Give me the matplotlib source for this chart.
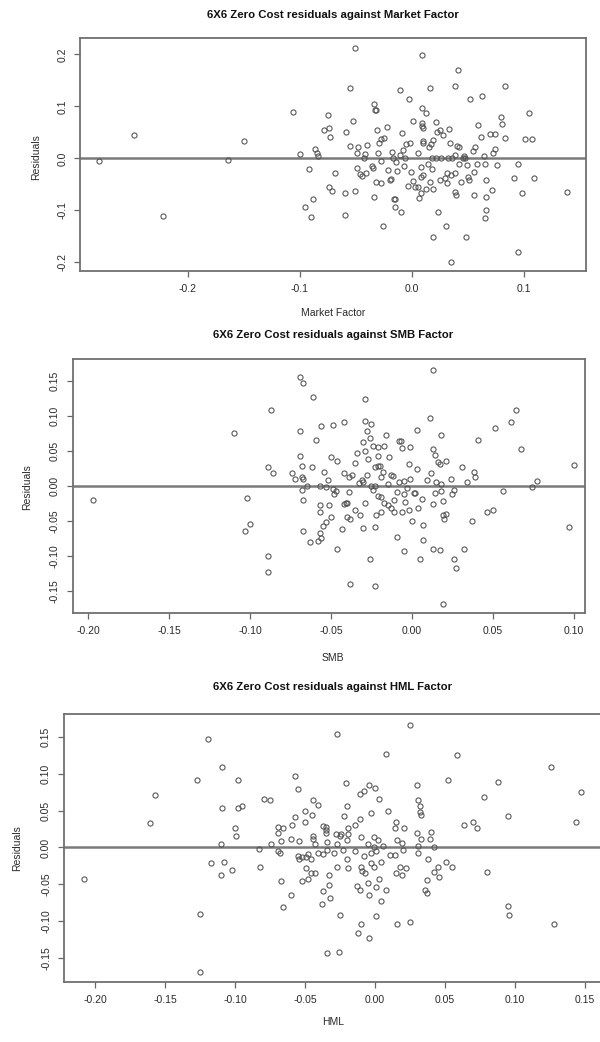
import numpy as np
import matplotlib
matplotlib.use("Agg")
import matplotlib.pyplot as plt

plt.rcParams['font.family'] = ['Liberation Sans', 'DejaVu Sans']

# residuals vs Market factor
mkt_x = [-0.279,-0.248,-0.222,-0.164,-0.150,-0.106,-0.100,-0.092,-0.095,-0.090,
         -0.088,-0.086,-0.085,-0.084,-0.078,-0.075,-0.074,-0.073,-0.074,-0.071,
         -0.069,-0.060,-0.060,-0.059,-0.055,-0.055,-0.053,-0.051,-0.051,-0.049,
         -0.048,-0.049,-0.046,-0.045,-0.043,-0.042,-0.041,-0.040,-0.036,-0.035,
         -0.034,-0.034,-0.033,-0.032,-0.031,-0.032,-0.030,-0.028,-0.028,-0.029,
         -0.028,-0.026,-0.025,-0.022,-0.021,-0.020,-0.019,-0.018,-0.017,-0.016,
         -0.015,-0.015,-0.014,-0.013,-0.011,-0.011,-0.010,-0.009,-0.008,-0.007,
         -0.006,-0.005,-0.004,-0.003,-0.002,-0.001,0.001,0.001,0.003,0.005,
         0.005,0.006,0.008,0.008,0.008,0.009,0.009,0.009,0.009,0.010,
         0.010,0.010,0.010,0.012,0.012,0.014,0.015,0.016,0.016,0.017,
         0.018,0.018,0.019,0.019,0.019,0.021,0.021,0.022,0.023,0.025,
         0.025,0.026,0.028,0.029,0.030,0.031,0.031,0.032,0.033,0.034,
         0.035,0.035,0.036,0.038,0.038,0.038,0.038,0.039,0.040,0.041,
         0.042,0.042,0.044,0.045,0.046,0.047,0.048,0.049,0.050,0.051,
         0.052,0.054,0.055,0.055,0.056,0.058,0.059,0.061,0.062,0.064,
         0.065,0.065,0.066,0.066,0.066,0.069,0.071,0.072,0.074,0.074,
         0.076,0.079,0.080,0.083,0.083,0.091,0.094,0.094,0.098,0.101,
         0.104,0.107,0.109,0.138]
mkt_res = [-0.006,0.044,-0.110,-0.004,0.033,0.090,0.008,-0.021,-0.094,-0.113,
           -0.078,0.018,0.010,0.004,0.054,0.083,0.058,0.042,-0.055,-0.062,
           -0.029,-0.066,-0.108,0.051,0.135,0.024,0.071,-0.062,0.213,-0.019,
           0.021,0.011,-0.030,-0.033,0.000,0.008,-0.029,0.026,-0.014,-0.019,
           -0.074,0.104,0.093,0.092,0.054,-0.045,0.011,-0.047,-0.006,0.029,
           0.037,-0.131,0.040,0.060,-0.022,-0.042,-0.040,0.013,0.000,-0.078,
           -0.079,-0.093,-0.007,-0.024,0.131,0.006,-0.103,0.049,0.017,-0.014,
           0.000,0.027,-0.054,0.115,0.029,-0.026,0.071,-0.044,-0.056,-0.056,
           0.010,-0.076,-0.016,-0.035,-0.067,0.199,0.096,0.067,0.062,0.058,
           0.033,0.030,-0.032,0.088,-0.058,-0.010,0.022,-0.045,0.135,0.027,
           0.000,-0.021,-0.058,0.035,-0.151,0.000,0.069,0.050,-0.104,0.054,
           -0.042,0.000,0.045,-0.038,-0.131,-0.028,-0.048,0.000,0.057,0.030,
           -0.200,-0.032,0.000,0.139,-0.064,-0.029,0.006,-0.071,0.024,0.169,
           0.022,-0.010,-0.046,0.000,0.005,0.000,-0.151,-0.013,-0.035,-0.042,
           0.114,0.015,-0.026,-0.071,0.022,-0.010,0.064,0.042,0.119,0.005,
           -0.011,-0.115,-0.099,-0.042,-0.074,0.046,-0.061,0.010,0.046,0.018,
           -0.012,0.079,0.066,0.140,0.040,-0.037,-0.010,-0.180,-0.067,0.037,
           0.088,0.037,-0.038,-0.064]

# residuals vs SMB
smb_x = [-0.197,-0.110,-0.102,-0.100,-0.103,-0.089,-0.087,-0.086,-0.089,-0.089,
         -0.074,-0.072,-0.069,-0.067,-0.069,-0.069,-0.068,-0.068,-0.067,-0.068,
         -0.065,-0.067,-0.067,-0.063,-0.062,-0.061,-0.059,-0.057,-0.057,-0.057,
         -0.057,-0.058,-0.056,-0.056,-0.054,-0.055,-0.053,-0.052,-0.053,-0.051,
         -0.050,-0.050,-0.049,-0.049,-0.048,-0.047,-0.046,-0.046,-0.043,-0.042,
         -0.042,-0.042,-0.041,-0.040,-0.040,-0.039,-0.039,-0.038,-0.038,-0.037,
         -0.035,-0.035,-0.034,-0.033,-0.032,-0.031,-0.030,-0.030,-0.030,-0.029,
         -0.029,-0.029,-0.029,-0.028,-0.028,-0.027,-0.026,-0.026,-0.025,-0.025,
         -0.024,-0.024,-0.023,-0.023,-0.023,-0.023,-0.022,-0.021,-0.021,-0.021,
         -0.021,-0.020,-0.019,-0.019,-0.019,-0.018,-0.017,-0.017,-0.016,-0.015,
         -0.015,-0.014,-0.013,-0.013,-0.012,-0.011,-0.011,-0.009,-0.009,-0.008,
         -0.008,-0.007,-0.006,-0.006,-0.005,-0.005,-0.005,-0.004,-0.003,-0.002,
         -0.002,-0.001,-0.001,0.000,0.001,0.002,0.003,0.003,0.004,0.005,
         0.006,0.007,0.007,0.009,0.011,0.012,0.013,0.013,0.013,0.014,
         0.013,0.014,0.015,0.016,0.017,0.018,0.018,0.017,0.018,0.019,
         0.019,0.020,0.019,0.021,0.021,0.024,0.025,0.026,0.026,0.027,
         0.031,0.032,0.034,0.037,0.038,0.039,0.041,0.046,0.050,0.051,
         0.056,0.061,0.064,0.067,0.074,0.077,0.097,0.100]
smb_res = [-0.020,0.075,-0.017,-0.055,-0.064,0.027,0.109,0.018,-0.101,-0.123,
           0.018,0.010,0.155,0.147,0.079,0.043,0.029,0.012,0.010,-0.006,
           0.000,-0.021,-0.064,-0.080,0.027,0.127,0.066,0.000,-0.027,-0.038,
           -0.067,-0.079,-0.075,0.085,0.020,-0.057,-0.052,0.008,-0.002,-0.028,
           -0.045,0.041,0.087,-0.004,-0.012,-0.007,0.035,-0.090,-0.062,0.019,
           0.092,-0.026,-0.024,-0.025,-0.044,-0.009,0.013,-0.141,-0.047,0.015,
           0.033,-0.034,0.047,0.004,-0.042,0.008,0.063,0.006,-0.060,0.124,
           0.093,-0.024,0.050,0.015,0.078,0.038,-0.105,0.068,0.089,0.000,
           -0.006,0.057,0.027,-0.143,-0.059,0.000,-0.042,0.043,0.056,0.029,
           -0.015,0.028,0.013,-0.016,-0.038,0.020,0.057,-0.024,0.072,-0.028,
           0.002,0.041,0.015,-0.032,0.014,-0.021,-0.037,-0.009,-0.073,0.064,
           0.005,0.064,-0.037,0.054,-0.012,-0.093,0.007,-0.023,-0.003,0.031,
           -0.034,0.056,0.010,-0.051,-0.010,-0.011,0.080,0.024,-0.032,-0.104,
           -0.019,-0.056,-0.078,0.008,0.097,0.018,-0.026,0.166,0.053,0.044,
           -0.091,-0.011,0.005,0.034,-0.092,0.002,0.072,0.031,-0.008,-0.022,
           -0.042,-0.048,-0.169,0.035,-0.041,0.010,-0.012,-0.006,-0.105,-0.117,
           0.027,-0.090,0.005,-0.051,0.020,0.012,0.066,-0.037,-0.034,0.083,
           -0.008,0.092,0.109,0.053,-0.001,0.007,-0.059,0.030]

# residuals vs HML
hml_x = [-0.208,-0.161,-0.157,-0.127,-0.125,-0.125,-0.119,-0.117,-0.110,-0.110,
         -0.109,-0.109,-0.108,-0.102,-0.100,-0.099,-0.098,-0.098,-0.095,-0.083,
         -0.082,-0.079,-0.075,-0.074,-0.069,-0.069,-0.069,-0.068,-0.067,-0.067,
         -0.066,-0.066,-0.060,-0.060,-0.059,-0.057,-0.057,-0.055,-0.055,-0.054,
         -0.054,-0.052,-0.052,-0.050,-0.050,-0.049,-0.049,-0.048,-0.048,-0.046,
         -0.046,-0.045,-0.044,-0.044,-0.044,-0.043,-0.043,-0.041,-0.041,-0.038,
         -0.037,-0.037,-0.037,-0.035,-0.035,-0.035,-0.034,-0.034,-0.034,-0.033,
         -0.033,-0.032,-0.029,-0.028,-0.027,-0.027,-0.027,-0.026,-0.025,-0.025,
         -0.024,-0.023,-0.022,-0.021,-0.020,-0.020,-0.020,-0.019,-0.019,-0.019,
         -0.014,-0.014,-0.013,-0.012,-0.011,-0.011,-0.011,-0.010,-0.010,-0.009,
         -0.010,-0.008,-0.008,-0.007,-0.005,-0.005,-0.004,-0.004,-0.004,-0.003,
         -0.003,-0.003,-0.001,-0.001,-0.001,0.000,0.001,0.001,0.001,0.002,
         0.003,0.003,0.004,0.004,0.006,0.008,0.008,0.009,0.011,0.014,
         0.014,0.015,0.015,0.016,0.016,0.018,0.019,0.019,0.020,0.021,
         0.022,0.025,0.025,0.030,0.030,0.031,0.031,0.031,0.032,0.032,
         0.033,0.033,0.036,0.037,0.037,0.038,0.039,0.040,0.042,0.042,
         0.045,0.046,0.051,0.052,0.055,0.059,0.064,0.070,0.073,0.078,
         0.080,0.088,0.095,0.095,0.096,0.126,0.128,0.144,0.147]
hml_res = [-0.042,0.033,0.071,0.092,-0.090,-0.168,0.147,-0.021,0.005,-0.037,
           0.109,0.053,-0.019,-0.031,0.027,0.016,0.092,0.054,0.056,-0.002,
           -0.027,0.066,0.064,0.005,0.028,0.019,-0.005,-0.008,0.009,-0.045,
           -0.080,0.027,-0.065,0.011,0.030,0.041,0.097,0.079,-0.012,-0.016,
           0.009,-0.046,-0.013,0.050,0.035,-0.013,-0.028,-0.043,-0.009,-0.016,
           -0.035,0.044,0.064,0.015,0.011,0.005,-0.035,0.057,-0.007,-0.077,
           0.029,-0.009,-0.059,0.028,0.023,0.020,-0.004,-0.143,0.007,-0.037,
           -0.051,-0.068,-0.008,0.018,0.153,-0.027,0.005,-0.141,-0.092,0.015,
           0.018,-0.004,0.043,0.087,0.056,-0.016,0.010,0.018,-0.028,0.027,
           -0.005,0.030,-0.052,-0.116,-0.058,0.072,0.038,0.014,-0.026,-0.032,
           -0.104,0.077,-0.011,-0.035,0.005,-0.048,0.084,-0.065,-0.122,-0.007,
           0.047,-0.021,-0.027,0.014,0.001,0.080,-0.005,-0.093,-0.054,0.010,
           -0.042,0.066,-0.073,-0.020,0.002,0.126,-0.057,0.050,-0.010,-0.010,
           0.027,0.035,-0.034,-0.104,0.010,-0.026,-0.037,0.006,-0.004,0.026,
           -0.028,0.166,-0.101,0.019,0.085,0.064,0.002,-0.007,0.056,0.048,
           0.044,0.011,-0.058,-0.061,-0.044,-0.015,0.012,0.021,0.000,-0.033,
           -0.026,-0.040,-0.020,0.092,-0.026,0.125,0.030,0.034,0.026,0.068,
           -0.033,0.089,0.042,-0.079,-0.092,0.109,-0.104,0.034,0.075]

mkt_xticks = [-0.2, -0.1, 0.0, 0.1]
mkt_xlabels = ['-0.2', '-0.1', '0.0', '0.1']
mkt_yticks = [-0.2, -0.1, 0.0, 0.1, 0.2]
mkt_ylabels = ['-0.2', '-0.1', '0.0', '0.1', '0.2']
f_xticks = [-0.20, -0.15, -0.10, -0.05, 0.00, 0.05, 0.10, 0.15]
f_xlabels = ['-0.20', '-0.15', '-0.10', '-0.05', '0.00', '0.05', '0.10', '0.15']
f_yticks = [-0.15, -0.10, -0.05, 0.00, 0.05, 0.10, 0.15]
f_ylabels = ['-0.15', '-0.10', '-0.05', '0.00', '0.05', '0.10', '0.15']

W, H = 600, 1042
fig = plt.figure(figsize=(W/100, H/100), dpi=100)
txt = '#2a2a2a'


def px(x0, y0, x1, y1):
    # pixel box -> figure fraction rect
    return [x0/W, 1 - y1/H, (x1 - x0)/W, (y1 - y0)/H]


def panel(rect, xs, ys, xlim, ylim, xt, xtl, yt, ytl):
    ax = fig.add_axes(rect)
    ax.plot(xs, ys, 'o', ms=3.7, mfc='none', mec='#505050', mew=0.75)
    ax.axhline(0, color='#7a7a7a', lw=1.8, zorder=0)
    ax.set_xlim(xlim)
    ax.set_ylim(ylim)
    ax.set_xticks(xt)
    ax.set_xticklabels(xtl)
    ax.set_yticks(yt)
    ax.set_yticklabels(ytl, rotation=90, va='center')
    ax.tick_params(direction='out', length=4.5, width=0.9, colors='#666666',
                   labelcolor=txt, labelsize=7.5, pad=5)
    for s in ax.spines.values():
        s.set_color('#707070')
        s.set_linewidth(1.3)
    return ax


panel(px(80.4, 38.3, 585.5, 270.7), mkt_x, mkt_res, (-0.2954, 0.1545), (-0.216, 0.2308),
      mkt_xticks, mkt_xlabels, mkt_yticks, mkt_ylabels)
panel(px(72.7, 359.3, 585.5, 613.3), smb_x, smb_res, (-0.2094, 0.1071), (-0.1824, 0.181),
      f_xticks[:-1], f_xlabels[:-1], f_yticks, f_ylabels)
panel(px(64.3, 714.3, 631, 981.7), hml_x, hml_res, (-0.222, 0.183), (-0.1817, 0.1803),
      f_xticks, f_xlabels, f_yticks, f_ylabels)

titles = ['6X6 Zero Cost residuals against Market Factor',
          '6X6 Zero Cost residuals against SMB Factor',
          '6X6 Zero Cost residuals against HML Factor']
xlabels = ['Market Factor', 'SMB', 'HML']
title_y = [15, 335, 687]
xlab_y = [313, 658, 1022]
ylab_x = [36, 27, 17]
ylab_y = [157, 487, 848]

for i in range(3):
    fig.text(333/W, 1 - title_y[i]/H, titles[i], ha='center', va='center',
             fontsize=8.2, fontweight='bold', color='#111111')
    fig.text(333/W, 1 - xlab_y[i]/H, xlabels[i], ha='center', va='center',
             fontsize=7.5, color=txt)
    fig.text(ylab_x[i]/W, 1 - ylab_y[i]/H, 'Residuals', ha='center', va='center',
             rotation=90, fontsize=7.5, color=txt)

fig.savefig('out.png', dpi=100)
